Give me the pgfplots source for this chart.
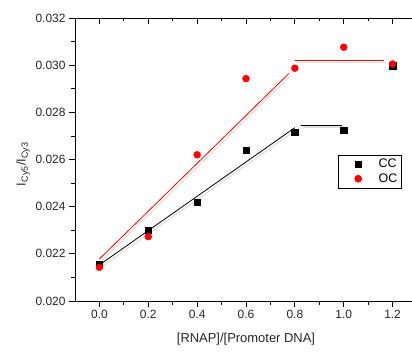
\documentclass[border=0pt]{standalone}
\usepackage{pgfplots}
\pgfplotsset{compat=1.18}
\usepackage{fontspec}
\setmainfont{Liberation Sans}
\begin{document}
\begin{tikzpicture}[x=1bp,y=1bp]
\path[use as bounding box, clip] (-75bp,-51bp) rectangle (337bp,301bp);
\begin{axis}[
  at={(0,0)}, anchor=south west,
  scale only axis, width=342bp, height=283bp,
  xmin=-0.1, xmax=1.3, ymin=0.020, ymax=0.032,
  axis x line*=bottom, axis y line*=left,
  axis line style={line width=0.9pt, -},
  xtick={0,0.2,...,1.2}, minor x tick num=1,
  ytick={0.020,0.022,...,0.032}, minor y tick num=1,
  tick align=outside,
  major tick length=6bp, minor tick length=3.5bp,
  tick style={black, line width=0.8pt},
  every tick label/.append style={font=\fontsize{12}{14}\selectfont, text=black!85},
  /pgf/number format/assume math mode=true,
  xticklabel style={/pgf/number format/.cd, fixed, fixed zerofill, precision=1},
  yticklabel style={/pgf/number format/.cd, fixed, fixed zerofill, precision=3},
  scaled y ticks=false,
  xlabel={[RNAP]/[Promoter DNA]},
  ylabel={I\textsubscript{Cy5}/I\textsubscript{Cy3}},
  xlabel style={at={(axis description cs:0.5,-0.136)}, anchor=center, font=\fontsize{13}{15}\selectfont, text=black!85},
  ylabel style={at={(axis description cs:-0.152,0.484)}, anchor=center, font=\fontsize{13}{15}\selectfont, text=black!85},
  legend style={at={(0.768,0.517)}, anchor=north west, draw=black, line width=0.6pt,
    font=\fontsize{12.5}{14}\selectfont, row sep=0.5pt, inner xsep=2pt, inner ysep=2pt,
    /tikz/every odd column/.append style={column sep=15bp}},
  legend image code/.code={\path (0bp,0bp); \draw[#1] plot coordinates {(18bp,0bp)};},
  legend cell align=left,
]
% shadows
\addplot[gray!25, line width=1.2pt, forget plot] coordinates {(0.008,0.02145) (0.808,0.02727)};
\addplot[gray!25, line width=1.2pt, forget plot] coordinates {(0.008,0.02170) (0.784,0.02957)};
\addplot[gray!25, line width=1.2pt, forget plot] coordinates {(0.808,0.03010) (1.174,0.03010)};
\addplot[gray!25, line width=1.2pt, forget plot] coordinates {(0.832,0.02738) (1.001,0.02738)};
% fits
\addplot[color=black, line width=0.8pt, forget plot] coordinates {(0,0.02153) (0.8,0.02735)};
\addplot[color=black, line width=0.8pt, forget plot] coordinates {(0.824,0.02746) (0.993,0.02746)};
\addplot[color=red, line width=0.8pt, forget plot] coordinates {(0,0.02178) (0.776,0.02965)};
\addplot[color=red, line width=0.9pt, forget plot] coordinates {(0.8,0.03018) (1.166,0.03018)};
% data
\addplot[only marks, mark=square*, mark size=3.2bp, black] coordinates {
(0,0.02156) (0.2,0.02300) (0.4,0.02420) (0.6,0.02640) (0.8,0.02715) (1.0,0.02725) (1.2,0.02998)};
\addlegendentry{CC}
\addplot[only marks, mark=*, mark size=3.5bp, red, mark options={fill=red, draw=red}] coordinates {
(0,0.02143) (0.2,0.02273) (0.4,0.02620) (0.6,0.02943) (0.8,0.02987) (1.0,0.03076) (1.2,0.03005)};
\addlegendentry{OC}
\end{axis}
\begin{axis}[
  at={(0,0)}, anchor=south west,
  scale only axis, width=342bp, height=283bp,
  xmin=-0.1, xmax=1.3, ymin=0.020, ymax=0.032,
  axis x line*=top, axis y line=none,
  axis line style={line width=0.9pt, -},
  xtick={0,0.2,...,1.2}, minor x tick num=1, xticklabels={},
  tick align=inside,
  major tick length=6bp, minor tick length=3.5bp,
  tick style={black, line width=0.8pt},
]
\addplot[draw=none] coordinates {(0,0.025)};
\end{axis}
\end{tikzpicture}
\end{document}
